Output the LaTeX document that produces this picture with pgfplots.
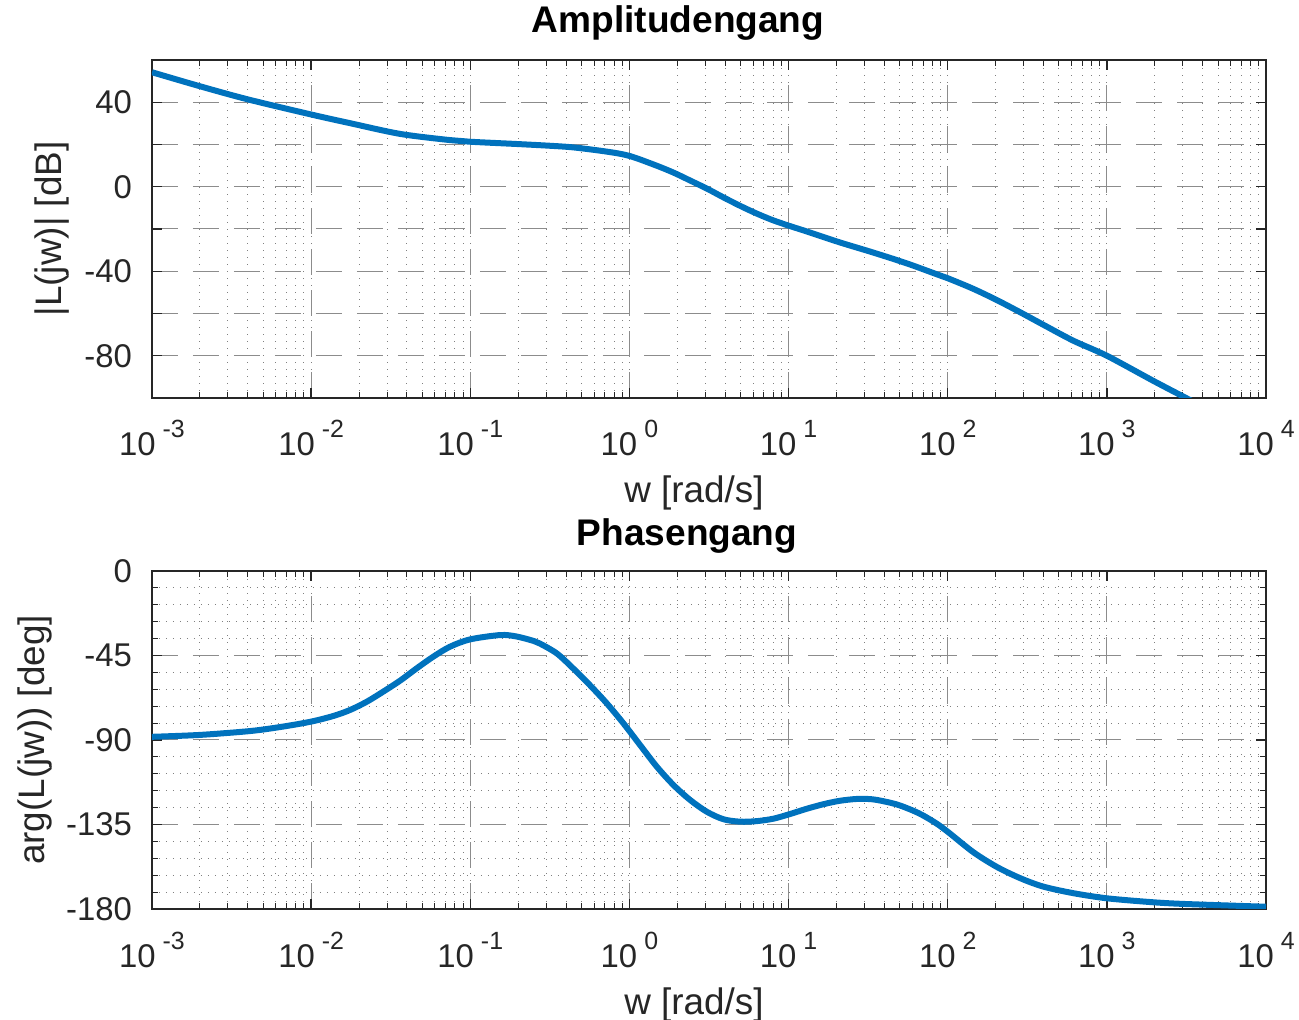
\documentclass[border=0pt]{standalone}
\usepackage{fontspec}
\setmainfont{Liberation Sans}
\usepackage{pgfplots}
\pgfplotsset{compat=1.18}
\definecolor{mblue}{rgb}{0,0.447,0.741}
\definecolor{mtext}{rgb}{0.15,0.15,0.15}
\newcommand{\ex}[1]{10\hspace{3.5bp}\raisebox{9bp}{\fontsize{12.5}{13}\selectfont #1}}

\pgfplotsset{
  bode/.style={
    scale only axis, width=557bp, height=169bp,
    xmin=1e-3, xmax=1e4,
    xtick={1e-3,1e-2,1e-1,1,1e1,1e2,1e3,1e4},
    xticklabels={\ex{-3},\ex{-2},\ex{-1},\ex{0},\ex{1},\ex{2},\ex{3},\ex{4}},
    grid=both,
    major grid style={black!45, line width=0.5bp, dash pattern=on 13bp off 7.5bp},
    minor grid style={black!50, line width=0.5bp, dash pattern=on 0.6bp off 2.9bp},
    axis line style={mtext, line width=0.7bp},
    major tick style={mtext, line width=0.7bp},
    minor tick style={mtext, line width=0.5bp},
    major tick length=5bp, minor tick length=3bp,
    every tick label/.append style={font=\fontsize{16.5}{19}\selectfont, text=mtext},
    xticklabel style={anchor=base, yshift=-29bp},
    yticklabel style={anchor=east, xshift=-6.5bp},
    label style={font=\fontsize{18.5}{22}\selectfont, text=mtext},
    title style={font=\bfseries\fontsize{18.6}{22}\selectfont, text=black},
    /pgf/number format/assume math mode=true,
    clip=true,
  }
}

\begin{document}
\begin{tikzpicture}
% Amplitude
\begin{semilogxaxis}[bode,
    at={(76bp,311bp)}, anchor=south west,
    ymin=-100, ymax=60,
    ytick={-100,-80,...,60},
    yticklabels={,-80,,-40,,0,,40,},
    minor y tick num=0,
    title={Amplitudengang},
    title style={at={([xshift=-15.5bp,yshift=8bp]axis description cs:0.5,1)}, anchor=base},
    xlabel={w [rad/s]},
    xlabel style={at={([xshift=-7.5bp,yshift=-52.5bp]axis description cs:0.5,0)}, anchor=base},
    ylabel={|L(jw)| [dB]},
    ylabel style={at={([xshift=-50bp]axis description cs:0,0.5)}, anchor=center},
]
\addplot[mblue, line width=3bp, smooth] table {
w        L
0.001    54.2
0.001995 47.6
0.003981 41.4
0.01     34.2
0.01778  30.0
0.03631  25.0
0.07413  22.1
0.1      21.3
0.1995   20.2
0.3162   19.4
0.4467   18.6
0.7244   16.6
1.0      14.6
1.479    10.0
1.905    6.6
2.399    3.0
3.090    -1.0
3.890    -5.0
5.012    -9.2
6.310    -12.7
7.943    -15.8
10       -18.4
13.18    -21.3
20.89    -26.3
33.88    -31.1
54.95    -36.2
85.11    -41.4
100      -43.3
144.5    -48.3
204.2    -53.7
288.4    -59.6
398.1    -65.3
616.6    -72.9
1000     -80.0
1950     -91.8
3020     -99.3
3981     -104.0
};
\end{semilogxaxis}
% Phase
\begin{semilogxaxis}[bode,
    at={(76bp,55.5bp)}, anchor=south west,
    ymin=-180, ymax=0,
    ytick={-180,-135,-90,-45,0},
    yticklabels={-180,-135,-90,-45,0},
    minor y tick num=4,
    title={Phasengang},
    title style={at={([xshift=-11bp,yshift=7bp]axis description cs:0.5,1)}, anchor=base},
    xlabel={w [rad/s]},
    xlabel style={at={([xshift=-7.5bp,yshift=-52.5bp]axis description cs:0.5,0)}, anchor=base},
    ylabel={arg(L(jw)) [deg]},
    ylabel style={at={([xshift=-58.5bp]axis description cs:0,0.5)}, anchor=center},
]
\addplot[mblue, line width=3bp, smooth] table {
w        P
0.001    -88.3
0.001995 -87.3
0.004169 -85.2
0.006607 -82.9
0.01     -80.2
0.01380  -77.2
0.01758  -74.0
0.02239  -69.6
0.02844  -64.2
0.03622  -58.4
0.04613  -51.8
0.05861  -45.6
0.07464  -40.3
0.1      -36.4
0.1549   -34.1
0.1959   -34.9
0.2512   -37.3
0.2748   -38.7
0.3499   -43.9
0.4446   -52.0
0.5662   -60.9
0.7211   -70.5
0.9162   -81.1
1.167    -92.7
1.486    -104.2
1.892    -114.0
2.404    -121.9
3.062    -128.2
3.899    -132.2
4.966    -133.5
6.324    -133.2
8.035    -131.9
10.23    -129.4
13.03    -126.6
16.56    -124.2
20.89    -122.4
26.85    -121.4
33.88    -121.6
43.55    -123.4
50.23    -124.9
60.95    -127.7
70.47    -130.3
85.51    -134.6
101.2    -139.2
145.2    -149.8
203.7    -157.6
285.8    -163.6
399.9    -168.1
618.0    -171.6
1000     -174.3
1875     -176.3
3034     -177.3
10000    -178.8
};
\end{semilogxaxis}
\pgfresetboundingbox
\path (0,0) rectangle (649.5bp,510bp);
\end{tikzpicture}
\end{document}
